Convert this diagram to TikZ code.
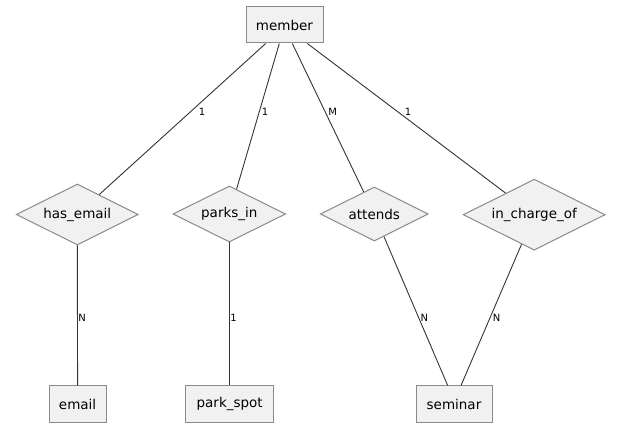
\documentclass[tikz,border=0pt]{standalone}
\usepackage{fontspec}
\setmainfont{DejaVu Sans}
\usetikzlibrary{shapes.geometric}
\definecolor{nodefill}{HTML}{F1F1F1}
\definecolor{nodeline}{HTML}{8A8A8A}
\definecolor{edgeline}{HTML}{333333}
\tikzset{
  entity/.style={draw=nodeline, fill=nodefill, line width=1pt, rectangle, inner sep=0pt,
    minimum height=36pt, font=\fontsize{13.5}{16}\selectfont},
  relation/.style={draw=nodeline, fill=nodefill, line width=1pt, diamond, aspect=2, inner sep=0pt,
    font=\fontsize{13.5}{16}\selectfont},
  conn/.style={draw=edgeline, line width=0.9pt},
  lbl/.style={inner sep=0pt, font=\fontsize{10}{12}\selectfont}
}
\begin{document}
\begin{tikzpicture}[x=1pt,y=-1pt]
\useasboundingbox (0,0) rectangle (621,427);
% entities
\node[entity, minimum width=77pt] (member) at (284.5,25) {member};
\node[entity, minimum width=57pt] (email) at (77.6,404) {email};
\node[entity, minimum width=88pt] (parkspot) at (229.7,404) {park\_spot};
\node[entity, minimum width=76pt] (seminar) at (454,404) {seminar};
% relationships
\node[relation, minimum width=122pt, minimum height=61pt] (hasemail) at (77.3,214.5) {has\_email};
\node[relation, minimum width=112.7pt, minimum height=56pt] (parksin) at (229.3,214) {parks\_in};
\node[relation, minimum width=108pt, minimum height=54pt] (attends) at (374.3,214) {attends};
\node[relation, minimum width=142pt, minimum height=71pt] (incharge) at (534.2,214.7) {in\_charge\_of};
% anchor points on member and seminar
\coordinate (m1) at ([xshift=-18.8pt]member.south);
\coordinate (m2) at ([xshift=-5.2pt]member.south);
\coordinate (m3) at ([xshift=7.8pt]member.south);
\coordinate (m4) at ([xshift=22.8pt]member.south);
\coordinate (s1) at ([xshift=-6.3pt]seminar.north);
\coordinate (s2) at ([xshift=7pt]seminar.north);
% connectors
\draw[conn] (m1) -- (hasemail);
\draw[conn] (m2) -- (parksin);
\draw[conn] (m3) -- (attends);
\draw[conn] (m4) -- (incharge);
\draw[conn] (hasemail.south) -- (email.north);
\draw[conn] (parksin.south) -- (parkspot.north -| parksin.south);
\draw[conn] (attends) -- (s1);
\draw[conn] (incharge) -- (s2);
% labels
\node[lbl] (l1) at (202,112) {1};
\node[lbl] (l2) at (265,112) {1};
\node[lbl] (l3) at (332.8,112) {M};
\node[lbl] (l4) at (408,112) {1};
\node[lbl] (l5) at (82,318) {N};
\node[lbl] (l6) at (233.5,318) {1};
\node[lbl] (l7) at (424.3,318) {N};
\node[lbl] (l8) at (496.7,318) {N};
\end{tikzpicture}
\end{document}
